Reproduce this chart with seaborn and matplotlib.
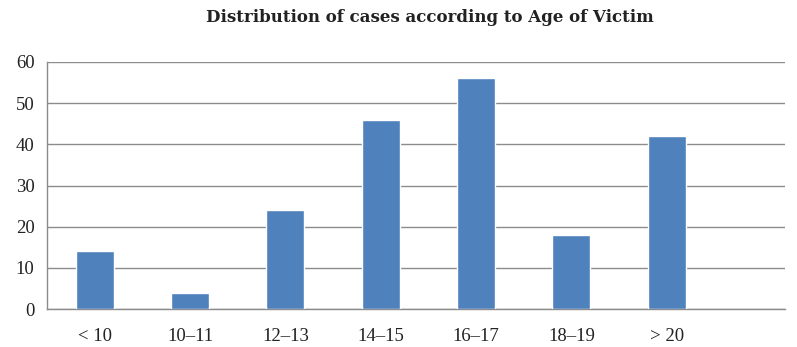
import numpy as np
import pandas as pd
import matplotlib
matplotlib.use("Agg")
import matplotlib.pyplot as plt
import seaborn as sns

# data
age_groups = ["< 10", "10\u201311", "12\u201313", "14\u201315", "16\u201317", "18\u201319", "> 20"]
cases = [14, 4, 24, 46, 56, 18, 42]

df = pd.DataFrame({"age": age_groups, "cases": cases})

sns.set_style("white")
plt.rcParams["font.family"] = ["Liberation Serif", "DejaVu Serif"]

fig = plt.figure(figsize=(7.97, 3.47), dpi=100)
ax = fig.add_axes([47 / 797, 1 - 309 / 347, (785 - 47) / 797, (309 - 62) / 347])

sns.barplot(data=df, x="age", y="cases", color="#4F81BD", saturation=1,
            width=0.4, ax=ax, zorder=3)

ax.set_ylim(0, 60)
ax.set_yticks(range(0, 61, 10))
ax.set_xlim(-0.5, 7.24)
ax.yaxis.grid(True, color="#8c8c8c", linewidth=1.0, zorder=0)
ax.xaxis.grid(False)

# category boundaries as tick marks, labels centred on bars
ax.set_xticks(np.arange(-0.5, 7.5, 1.0))
ax.set_xticklabels([])
ax.set_xticks(range(len(age_groups)), minor=True)
ax.set_xticklabels(age_groups, minor=True)
ax.tick_params(axis="x", which="major", direction="out", length=5, color="#8c8c8c", width=1)
ax.tick_params(axis="x", which="minor", length=0, pad=14, labelsize=13.5, labelcolor="#222222")
ax.tick_params(axis="y", direction="out", length=5, color="#8c8c8c", width=1,
               labelsize=13.5, labelcolor="#222222", pad=4)

for side in ["top", "right"]:
    ax.spines[side].set_visible(False)
for side in ["left", "bottom"]:
    ax.spines[side].set_color("#8c8c8c")
    ax.spines[side].set_linewidth(1.0)

ax.set_xlabel("")
ax.set_ylabel("")

fig.text(430 / 797, 1 - 18 / 347, "Distribution of cases according to Age of Victim",
         ha="center", va="center", fontsize=12, fontweight="bold", color="#222222",
         family="DejaVu Serif")

fig.savefig("out.png", dpi=100)
